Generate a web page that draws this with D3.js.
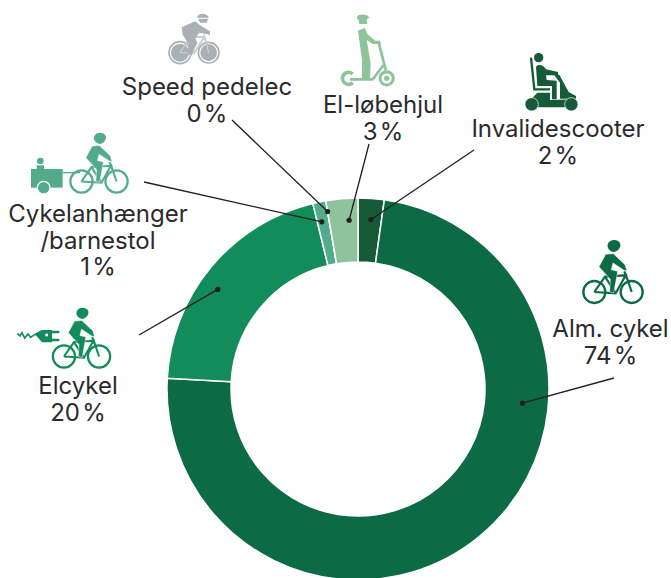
<html>
<title>Cykeltyper</title>
<script src='https://cdn.jsdelivr.net/npm/d3@7'></script>
<style>
body {margin:0; background:#fff;}
text {font-family:Inter,'Noto Sans',sans-serif; font-size:24px; fill:#2b2a2d; text-anchor:middle;}
</style>
<svg width=671 height=578></svg>
<script>
// clockwise from 12 o'clock
var names = ["Invalidescooter","Alm. cykel","Elcykel","Cykelanhænger/barnestol","Speed pedelec","El-løbehjul"]
var shares = [2.2,73.7,20.3,1.1,0,2.7]
var shareLabels = ["2\u200A%","74\u200A%","20\u200A%","1\u200A%","0\u200A%","3\u200A%"]
var colors = ["#165a37","#0c6a45","#138c5c","#52ab8a","#a9b1b6","#8fc39b"]

var cx=358, cy=389, outer=191, inner=127
var svg = d3.select("svg")

var pie = d3.pie().sort(null).value(function(d){return d})
var arc = d3.arc().innerRadius(inner).outerRadius(outer)
var slices = pie(shares)

svg.append("g")
.attr("transform","translate("+cx+","+cy+")")
.selectAll("path").data(slices)
.enter().append("path")
.attr("d",arc)
.style("fill",function(d,i){return colors[i]})
.style("stroke","#fff")
.style("stroke-width",1.5)

// label placement, same order as names
var labelX = [558,610.5,78,98,207,383]
var labelY = [137,337,394,222,95,113]
var labelLines = [["Invalidescooter"],["Alm. cykel"],["Elcykel"],["Cykelanhænger","/barnestol"],["Speed pedelec"],["El-løbehjul"]]
var lineStart = [[474,150],[614,378],[139,335],[144,182],[232,120],[369,144]]
var dotFrac = [.55,.328,.44,.37,0,.69]
var dotR = [170,165,172,171,180,169]

slices.forEach(function(d,i){
  var a = d.startAngle + dotFrac[i]*(d.endAngle-d.startAngle)
  var px = cx+dotR[i]*Math.sin(a), py = cy-dotR[i]*Math.cos(a)
  svg.append("line").attr("x1",lineStart[i][0]).attr("y1",lineStart[i][1]).attr("x2",px).attr("y2",py)
    .style("stroke","#231f20").style("stroke-width",1.3)
  svg.append("circle").attr("cx",px).attr("cy",py).attr("r",2.6).style("fill","#231f20")
  var t = svg.append("text").attr("x",labelX[i]).attr("y",labelY[i])
  labelLines[i].concat(shareLabels[i]).forEach(function(s,j){
    t.append("tspan").attr("x",labelX[i]).attr("dy",j==0?0:26.5).text(s)
  })
})

// icons, drawn in 3x units
function icon(x,y,s){
  return svg.append("g").attr("transform","translate("+x+","+y+") scale("+s+")")
}
function bike(x,y,s,col,wheelR){
  var g = icon(x,y,s)
  // origin is midway between the axles
  ;[-56,56].forEach(function(w){
    g.append("circle").attr("cx",w).attr("cy",0).attr("r",wheelR).style("fill","none").style("stroke",col).style("stroke-width",7)
  })
  g.append("path").attr("d","M-56,0 L-24,-46 L38,-50 L8,4 L-56,0 M-24,-46 L8,4 M38,-54 L56,0 M34,-62 L42,-40")
    .style("fill","none").style("stroke",col).style("stroke-width",6.5)
  g.append("path").attr("d","M-22,-113 L1,-115 L36,-82 L42,-62 L32,-66 L0,-87 L-5,-67 L14,-62 L12,-50 L2,3 L-10,0 L-8,-38 L-26,-58 L-42,-76 Z")
    .style("fill",col).style("stroke","#fff").style("stroke-width",1.5)
  g.append("path").attr("d","M-16,-142 C-12,-160 18,-160 22,-144 C24,-132 14,-122 2,-120 C-10,-122 -18,-132 -16,-142 Z").style("fill",col)
}

bike(613,292,1/3,colors[1],33)
bike(81.5,356.5,.94/3,colors[2],35.5)
bike(99,181.5,.94/3,colors[3],35.5)

// speed pedelec, rider bent forward
var sp = icon(0,0,1/3)
;[[540,158,33],[626,158,31]].forEach(function(w){
  sp.append("circle").attr("cx",w[0]).attr("cy",w[1]).attr("r",w[2]).style("fill","none").style("stroke",colors[4]).style("stroke-width",5)
  sp.append("circle").attr("cx",w[0]).attr("cy",w[1]).attr("r",w[2]-6).style("fill",colors[4])
})
sp.append("path").attr("d","M540,158 L572,110 L612,112 L582,160 L540,158 M612,104 L626,158 M572,110 L582,160")
  .style("fill","none").style("stroke",colors[4]).style("stroke-width",5)
sp.append("path").attr("d","M540,158 L572,110 L612,112 L582,160 L540,158 M612,104 L626,158 M572,110 L582,160")
  .style("fill","none").style("stroke","#fff").style("stroke-width",1.5)
sp.append("path").attr("d","M545,82 L585,64 L600,76 L630,94 L630,104 L598,98 L586,114 L592,130 L574,166 L562,162 L566,132 L548,104 Z").style("fill",colors[4])
sp.append("path").attr("d","M592,52 C594,38 620,38 626,52 L620,68 L600,68 Z").style("fill",colors[4])
sp.append("path").attr("d","M594,55 L624,55").style("stroke","#fff").style("stroke-width",3)

// plug
var plug = icon(0,290,1/3)
plug.append("path").attr("d","M52,130 L60,138 L66,128 L74,144 L84,132 L92,142 L104,134 L124,124").style("fill","none").style("stroke",colors[2]).style("stroke-width",5)
plug.append("path").attr("d","M104,132 L126,120 L156,120 L156,157 L126,157 Z M156,122 L178,122 L178,130 L156,130 Z M156,146 L178,146 L178,154 L156,154 Z").style("fill",colors[2])
plug.append("rect").attr("x",136).attr("y",131).attr("width",8).attr("height",8).style("fill","#fff")

// trailer
var tr = icon(0,0,1/3)
tr.append("rect").attr("x",93).attr("y",507).attr("width",95).attr("height",56).style("fill",colors[3])
tr.append("path").attr("d","M188,518 L240,518").style("stroke",colors[3]).style("stroke-width",4)
tr.append("circle").attr("cx",121).attr("cy",483).attr("r",10).style("fill",colors[3])
tr.append("rect").attr("x",110).attr("y",496).attr("width",22).attr("height",12).style("fill",colors[3])
tr.append("circle").attr("cx",131).attr("cy",563).attr("r",19).style("fill",colors[3]).style("stroke","#fff").style("stroke-width",4)

// el-loebehjul
var sc = icon(330,0,1/3)
sc.append("path").attr("d","M80,54 C82,40 114,40 118,54 L110,58 L112,72 L88,72 L86,60 Z").style("fill",colors[5])
sc.append("path").attr("d","M84,92 L104,84 L114,104 L136,122 L150,122 L153,132 L128,132 L110,120 L122,190 L120,236 L96,236 L96,180 Z").style("fill",colors[5])
sc.append("path").attr("d","M146,128 L170,220 M160,196 L128,238 L60,238").style("fill","none").style("stroke",colors[5]).style("stroke-width",8)
sc.append("path").attr("d","M68,222 A18,18 0 1 0 68,248").style("fill","none").style("stroke",colors[5]).style("stroke-width",11)
sc.append("circle").attr("cx",170).attr("cy",235).attr("r",20).style("fill","none").style("stroke",colors[5]).style("stroke-width",9)
sc.append("circle").attr("cx",170).attr("cy",235).attr("r",8).style("fill",colors[5])

// invalidescooter
var ch = icon(330,0,1/3)
ch.append("circle").attr("cx",626).attr("cy",173).attr("r",14).style("fill",colors[0])
ch.append("path").attr("d","M603,173 L613,268 L660,268").style("fill","none").style("stroke",colors[0]).style("stroke-width",7)
ch.append("path").attr("d","M618,200 C622,192 640,192 648,208 L684,216 L684,226 L648,226 L650,240 L680,242 L680,298 L666,298 L666,258 L622,258 Z").style("fill",colors[0])
ch.append("path").attr("d","M672,224 L688,224 L716,276 L738,288 L738,296 L690,296 L690,248 Z").style("fill",colors[0])
ch.append("path").attr("d","M604,296 L622,278 L660,278 L660,300 L738,298 L712,322 L625,322 Z").style("fill",colors[0])
ch.append("circle").attr("cx",605).attr("cy",313).attr("r",20).style("fill",colors[0]).style("stroke","#fff").style("stroke-width",2)
ch.append("circle").attr("cx",724).attr("cy",313).attr("r",20).style("fill",colors[0]).style("stroke","#fff").style("stroke-width",2)
</script>
</html>
